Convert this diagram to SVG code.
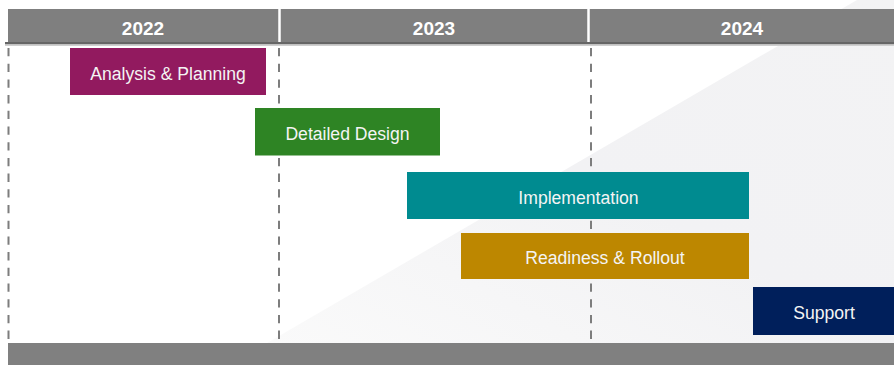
<svg xmlns="http://www.w3.org/2000/svg" width="894" height="365" viewBox="0 0 894 365">
  <style>
    .year { font-family: "Liberation Sans", Arial, sans-serif; font-weight: bold; font-size: 19px; fill: #ffffff; text-anchor: middle; }
    .lbl { font-family: "Liberation Sans", Arial, sans-serif; font-size: 17.6px; fill: #f4f4f4; text-anchor: middle; }
    .grid { stroke: #7d7d7d; stroke-width: 2; stroke-dasharray: 8.3 7.4; fill: none; }
    .sep { stroke: #ffffff; stroke-width: 2.5; }
  </style>
  <defs>
    <linearGradient id="bg" x1="0" y1="1" x2="1" y2="0">
      <stop offset="0" stop-color="#fafafa"/>
      <stop offset="0.5" stop-color="#f2f2f4"/>
      <stop offset="1" stop-color="#f3f3f4"/>
    </linearGradient>
  </defs>
  <rect x="0" y="0" width="894" height="365" fill="#ffffff"/>
  <polygon points="857,0 894,0 894,343 267,343" fill="url(#bg)"/>

  <g id="header">
    <rect x="8" y="9" width="886" height="34" fill="#7f7f7f"/>
    <rect x="5" y="42" width="889" height="2.5" fill="#666666"/>
    <rect x="5" y="44.5" width="889" height="1.5" fill="#cfcfcf"/>
    <line class="sep" x1="279.5" y1="9" x2="279.5" y2="42"/>
    <line class="sep" x1="588.5" y1="9" x2="588.5" y2="42"/>
    <text class="year" x="143" y="34.5">2022</text>
    <text class="year" x="434" y="34.5">2023</text>
    <text class="year" x="742" y="34.5">2024</text>
  </g>

  <g id="connectors">
    <line class="grid" x1="8.5" y1="48" x2="8.5" y2="343"/>
    <line class="grid" x1="279" y1="48" x2="279" y2="343"/>
    <line class="grid" x1="591" y1="48" x2="591" y2="343"/>
  </g>

  <g id="analysis-planning">
    <rect x="70" y="48" width="196" height="47" fill="#921a5f"/>
    <text class="lbl" x="168" y="80">Analysis &amp; Planning</text>
  </g>
  <g id="detailed-design">
    <rect x="255" y="108" width="185" height="47.5" fill="#2e8424"/>
    <text class="lbl" x="347.5" y="140">Detailed Design</text>
  </g>
  <g id="implementation">
    <rect x="407" y="172" width="342" height="47" fill="#008b90"/>
    <text class="lbl" x="578.5" y="203.5">Implementation</text>
  </g>
  <g id="readiness-rollout">
    <rect x="461" y="233" width="288" height="46" fill="#bd8700"/>
    <text class="lbl" x="605" y="264">Readiness &amp; Rollout</text>
  </g>
  <g id="support">
    <rect x="753" y="287" width="141" height="48" fill="#001f5b"/>
    <text class="lbl" x="824" y="318.5">Support</text>
  </g>

  <g id="footer">
    <rect x="8" y="343" width="886" height="22" fill="#808080"/>
  </g>
</svg>
